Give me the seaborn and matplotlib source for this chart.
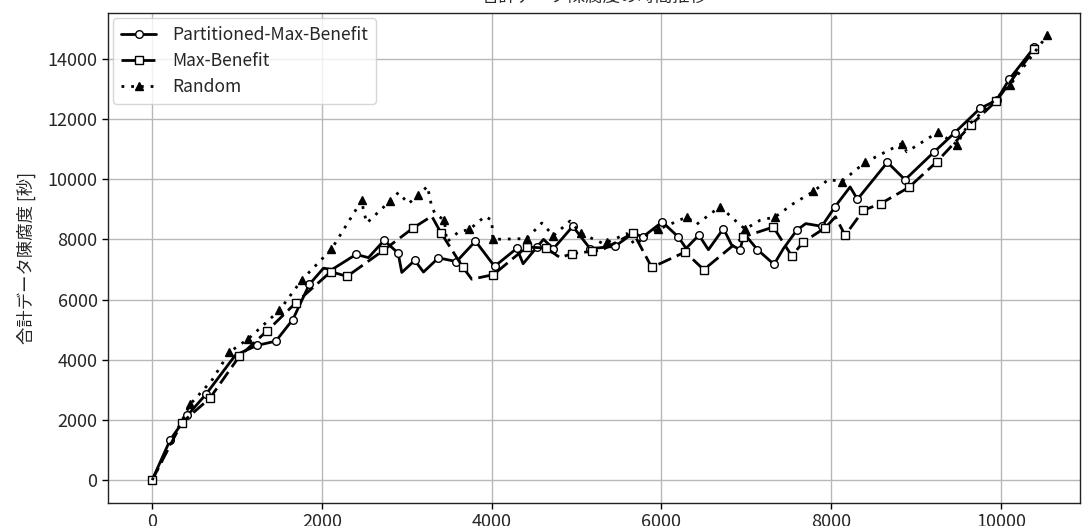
import numpy as np
import pandas as pd
import matplotlib
matplotlib.use("Agg")
import matplotlib.pyplot as plt
import seaborn as sns

# ---- data ----
part_x = [0, 212, 416, 636, 980, 1233, 1457, 1657, 1851, 2018, 2120, 2403, 2548, 2733, 2898, 2941,
          3094, 3196, 3373, 3585, 3809, 4034, 4296, 4370, 4534, 4610, 4727, 4955, 5159, 5453, 5669,
          5779, 6009, 6199, 6290, 6441, 6553, 6730, 6828, 6926, 6973, 7130, 7326, 7436, 7593, 7699,
          7888, 8045, 8222, 8308, 8661, 8869, 9212, 9452, 9752, 9949, 10098, 10392]
part_y = [0, 1337, 2150, 2860, 4150, 4474, 4618, 5335, 6500, 7040, 7000, 7500, 7391, 7967, 7540, 6900,
          7302, 6913, 7385, 7260, 7940, 7102, 7700, 7190, 7745, 8000, 7691, 8433, 7691, 7768, 8210,
          8077, 8577, 8077, 7700, 8140, 7655, 8357, 7801, 7658, 8190, 7658, 7169, 7691, 8300, 8523,
          8433, 9087, 9741, 9330, 10560, 9980, 10905, 11537, 12348, 12625, 13323, 14378]
part_m = [0, 1, 2, 3, 5, 6, 7, 8, 11, 13, 14, 16, 18, 19, 20, 21, 22, 24, 26, 27, 28, 29, 30,
          31, 32, 33, 35, 37, 39, 41, 42, 44, 46, 47, 49, 50, 51, 52, 53, 54, 55, 56, 57]

maxb_x = [0, 350, 680, 1027, 1355, 1694, 2105, 2297, 2725, 3078, 3294, 3400, 3659, 3765, 4020, 4413,
          4641, 4806, 4943, 5179, 5290, 5669, 5885, 6003, 6278, 6498, 6965, 7318, 7534, 7672, 7931,
          8050, 8163, 8378, 8583, 8913, 9242, 9650, 9945, 10392]
maxb_y = [0, 1910, 2721, 4113, 4960, 5895, 6925, 6770, 7635, 8385, 8770, 8227, 7080, 6675, 6826, 7745,
          7711, 7391, 7524, 7600, 7635, 8210, 7070, 7220, 7578, 6993, 8080, 8410, 7450, 7911, 8390,
          8750, 8134, 8965, 9187, 9725, 10572, 11810, 12602, 14311]
maxb_m = [0, 1, 2, 3, 4, 5, 6, 7, 8, 9, 11, 12, 14, 15, 16, 18, 19, 21, 22, 24, 25, 26, 27, 28,
          29, 30, 32, 33, 34, 35, 36, 37, 38, 39]

rand_x = [0, 230, 448, 700, 910, 1134, 1499, 1766, 2110, 2470, 2489, 2529, 2803, 2901, 3019, 3137,
          3243, 3294, 3333, 3443, 3471, 3608, 3738, 3922, 4001, 4013, 4413, 4590, 4727, 4923, 5049,
          5316, 5360, 5591, 5689, 5866, 5963, 6298, 6415, 6690, 6887, 6985, 7161, 7338, 7554, 7790,
          7966, 8123, 8398, 8833, 8889, 9252, 9478, 9596, 10106, 10546]
rand_y = [0, 1300, 2520, 3300, 4251, 4697, 5639, 6665, 7663, 9298, 8965, 8544, 9275, 9555, 9188, 9465,
          9764, 9075, 8855, 8633, 7911, 8244, 8330, 8766, 8633, 8000, 8024, 8543, 8120, 8610, 8200,
          7857, 7900, 8190, 7801, 8244, 8330, 8743, 8500, 9087, 8577, 8340, 8633, 8743, 9188, 9590,
          9987, 9920, 10556, 11184, 10905, 11553, 11150, 11737, 13124, 14787]
rand_m = [2, 4, 5, 6, 7, 8, 9, 12, 15, 19, 22, 25, 26, 28, 30, 32, 36, 37, 39, 41, 43, 45, 47,
          48, 49, 51, 52, 54, 55]

labels = ["Partitioned-Max-Benefit", "Max-Benefit", "Random"]
title = "合計データ陳腐度の時間推移"
ylabel = "合計データ陳腐度 [秒]"
x_ticks = [0, 2000, 4000, 6000, 8000, 10000]
y_ticks = [0, 2000, 4000, 6000, 8000, 10000, 12000, 14000]

# ---- style ----
sns.set_theme(style="ticks")
plt.rcParams["font.family"] = ["Noto Sans CJK JP", "DejaVu Sans"]
plt.rcParams["axes.unicode_minus"] = False

fig = plt.figure(figsize=(10.82, 5.26), dpi=100)
ax = fig.add_axes([108 / 1082, 23 / 526, (1080 - 108) / 1082, (513 - 23) / 526])

series = [
    (part_x, part_y, part_m, "-", "o", 5.5),
    (maxb_x, maxb_y, maxb_m, (0, (5, 2.2)), "s", 6),
    (rand_x, rand_y, rand_m, (0, (1, 2.5)), "^", 6),
]
for (xs, ys, ms, ls, mk, msz), lab in zip(series, labels):
    df = pd.DataFrame({"x": xs, "y": ys})
    sns.lineplot(data=df, x="x", y="y", ax=ax, sort=False, color="black",
                 linewidth=2, linestyle=ls, marker=mk, markevery=ms,
                 markersize=msz, markerfacecolor="black" if mk == "^" else "white",
                 markeredgecolor="black", markeredgewidth=1.0, label=lab)

ax.set_xlim(-520, 10930)
ax.set_ylim(-760, 15520)
ax.set_xticks(x_ticks)
ax.set_yticks(y_ticks)
ax.tick_params(labelsize=13, length=4, width=1, color="black")
ax.grid(True, color="#b8b8b8", linewidth=1)
for sp in ax.spines.values():
    sp.set_color("#222222")
    sp.set_linewidth(1)
ax.set_xlabel("")
ax.set_ylabel(ylabel, fontsize=12.5, labelpad=8)
ax.set_title(title, fontsize=12.5, pad=8)
ax.legend(loc="upper left", fontsize=12.6, frameon=True, handlelength=2.0,
          borderpad=0.45, labelspacing=0.45, borderaxespad=0.3, handletextpad=0.9)

fig.savefig("out.png", dpi=100)
